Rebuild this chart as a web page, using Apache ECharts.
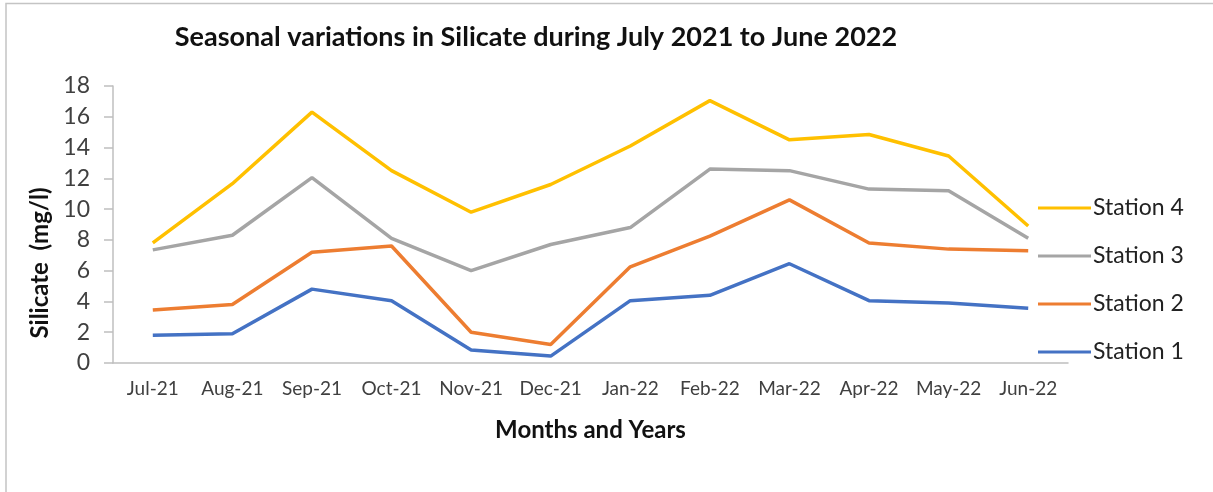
<!DOCTYPE html>
<html>
<head>
<meta charset="utf-8">
<title>Seasonal variations in Silicate</title>
<script src="https://cdn.jsdelivr.net/npm/echarts@6/dist/echarts.min.js"></script>
<style>
  html, body { margin: 0; padding: 0; background: #ffffff; }
  #chart { width: 1213px; height: 492px; }
</style>
</head>
<body>
<div id="chart"></div>
<script>
// Monthly silicate concentration (mg/l) at four stations
const months = ['Jul-21', 'Aug-21', 'Sep-21', 'Oct-21', 'Nov-21', 'Dec-21',
                'Jan-22', 'Feb-22', 'Mar-22', 'Apr-22', 'May-22', 'Jun-22'];
const station1 = [1.8, 1.9, 4.8, 4.05, 0.85, 0.45, 4.05, 4.4, 6.45, 4.05, 3.9, 3.55];
const station2 = [3.45, 3.8, 7.2, 7.6, 2.0, 1.2, 6.25, 8.25, 10.6, 7.8, 7.4, 7.3];
const station3 = [7.35, 8.3, 12.05, 8.1, 6.0, 7.7, 8.8, 12.6, 12.5, 11.3, 11.2, 8.1];
const station4 = [7.8, 11.65, 16.3, 12.5, 9.8, 11.6, 14.1, 17.05, 14.5, 14.85, 13.45, 8.9];
const yTicks = { min: 0, max: 18, step: 2 };

const stations = [
  { name: 'Station 1', data: station1, color: '#4472C4' },
  { name: 'Station 2', data: station2, color: '#ED7D31' },
  { name: 'Station 3', data: station3, color: '#A5A5A5' },
  { name: 'Station 4', data: station4, color: '#FFC000' }
];

const FONT = 'Lato, "Noto Sans", sans-serif';
const chart = echarts.init(document.getElementById('chart'));

chart.setOption({
  backgroundColor: '#ffffff',
  animation: false,
  title: {
    text: 'Seasonal variations in Silicate during July 2021 to June 2022',
    left: 531,
    top: 19,
    textAlign: 'center',
    textStyle: { fontFamily: FONT, fontWeight: 'bold', fontSize: 27, color: '#111111' }
  },
  legend: {
    orient: 'vertical',
    left: 1033,
    top: 191,
    data: ['Station 4', 'Station 3', 'Station 2', 'Station 1'],
    icon: 'rect',
    itemWidth: 53,
    itemHeight: 3,
    itemGap: 24,
    textStyle: { fontFamily: FONT, fontSize: 23, lineHeight: 24, color: '#222222', padding: [0, 0, 0, -3] }
  },
  grid: { left: 113, right: 145, top: 86, bottom: 129 },
  xAxis: {
    type: 'category',
    data: months,
    boundaryGap: true,
    name: 'Months and Years',
    nameLocation: 'middle',
    nameGap: 55,
    nameTextStyle: { fontFamily: FONT, fontWeight: 'bold', fontSize: 24, color: '#111111' },
    axisLine: { lineStyle: { color: '#BFBFBF', width: 1.5 } },
    axisTick: { show: false },
    axisLabel: { fontFamily: FONT, fontSize: 19, color: '#404040', margin: 16, interval: 0 },
    splitLine: { show: false }
  },
  yAxis: {
    type: 'value',
    min: yTicks.min,
    max: yTicks.max,
    interval: yTicks.step,
    axisLine: { show: true, lineStyle: { color: '#BFBFBF', width: 1.5 } },
    axisTick: { show: true, inside: false, length: 9, lineStyle: { color: '#BFBFBF', width: 1.5 } },
    axisLabel: { fontFamily: FONT, fontSize: 23, color: '#404040', margin: 23 },
    splitLine: { show: false }
  },
  graphic: [
    {
      type: 'rect',
      silent: true,
      shape: { x: 6, y: 3.5, width: 1300, height: 600 },
      style: { fill: 'none', stroke: '#C4C4C4', lineWidth: 1.5 }
    },
    {
      type: 'text',
      x: 40,
      y: 263,
      rotation: Math.PI / 2,
      style: {
        text: 'Silicate  (mg/l)',
        fontFamily: FONT,
        fontWeight: 'bold',
        fontSize: 24,
        fill: '#111111',
        textAlign: 'center',
        textVerticalAlign: 'middle'
      }
    }
  ],
  series: stations.map(s => ({
    name: s.name,
    type: 'line',
    data: s.data,
    symbol: 'none',
    color: s.color,
    lineStyle: { color: s.color, width: 3.5 },
    emphasis: { disabled: true }
  }))
});
</script>
</body>
</html>
